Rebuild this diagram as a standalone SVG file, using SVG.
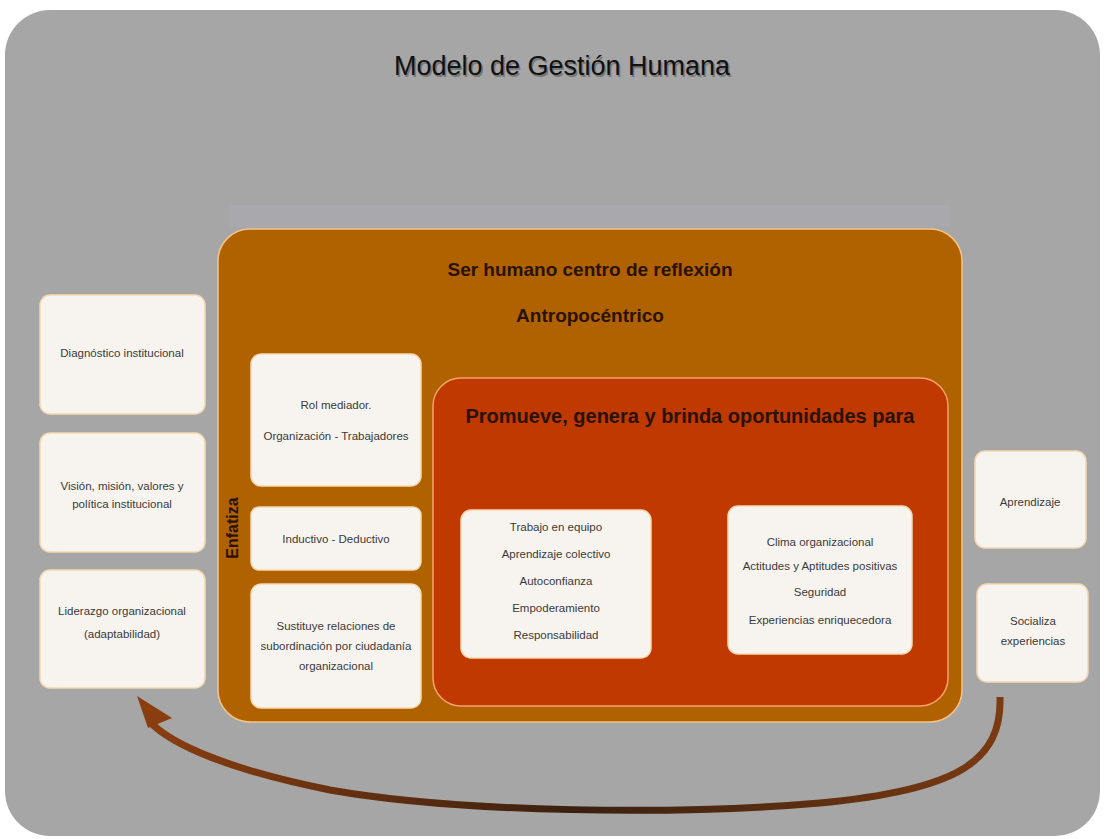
<svg xmlns="http://www.w3.org/2000/svg" width="1106" height="839" viewBox="0 0 1106 839">
<defs>
<style>
.box{fill:#f7f4ef;stroke:#f3d9b0;stroke-width:1.5}
.t{font-family:"Liberation Sans Narrow","Liberation Sans",Arial,sans-serif;font-size:11.5px;fill:#3a3a3a;text-anchor:middle}
.h{font-family:"Liberation Sans Narrow","Liberation Sans",Arial,sans-serif;font-weight:bold;fill:#2a1200;text-anchor:middle}
</style>
<linearGradient id="arr" x1="0" y1="0" x2="1" y2="0">
<stop offset="0" stop-color="#8a3e10"/>
<stop offset="0.5" stop-color="#3a2010"/>
<stop offset="1" stop-color="#7a3a12"/>
</linearGradient>
</defs>
<rect x="0" y="0" width="1106" height="839" fill="#ffffff"/>
<rect x="5" y="10" width="1095" height="826" rx="45" fill="#a6a6a6"/>
<rect x="230" y="205" width="720" height="22" fill="#acaab4" opacity="0.45"/>
<text x="562" y="75" font-family="Liberation Sans Narrow,Liberation Sans,Arial,sans-serif" font-size="27" fill="#5a5a5a" text-anchor="middle" opacity="0.6" transform="translate(1.5,1.5)">Modelo de Gestión Humana</text>
<text x="562" y="75" font-family="Liberation Sans Narrow,Liberation Sans,Arial,sans-serif" font-size="27" fill="#111" text-anchor="middle">Modelo de Gestión Humana</text>

<g id="container">
<rect x="218" y="229" width="744" height="493" rx="32" fill="#b06100" stroke="#f2c48a" stroke-width="1.5"/>
<text class="h" x="590" y="276" font-size="19">Ser humano centro de reflexión</text>
<text class="h" x="590" y="322" font-size="19">Antropocéntrico</text>
<text class="h" x="238" y="528" font-size="16" transform="rotate(-90 238 528)" text-anchor="middle">Enfatiza</text>
</g>

<g id="promueve">
<rect x="433" y="378" width="515" height="328" rx="28" fill="#bf3900" stroke="#f5a36a" stroke-width="1.5"/>
<text class="h" x="690" y="423" font-size="20">Promueve, genera y brinda oportunidades para</text>
</g>

<g id="n-equipo">
<rect class="box" x="461" y="510" width="190" height="148" rx="10"/>
<text class="t" x="556" y="531">Trabajo en equipo</text>
<text class="t" x="556" y="558">Aprendizaje colectivo</text>
<text class="t" x="556" y="585">Autoconfianza</text>
<text class="t" x="556" y="612">Empoderamiento</text>
<text class="t" x="556" y="639">Responsabilidad</text>
</g>

<g id="n-clima">
<rect class="box" x="728" y="506" width="184" height="148" rx="10"/>
<text class="t" x="820" y="546">Clima organizacional</text>
<text class="t" x="820" y="570">Actitudes y Aptitudes positivas</text>
<text class="t" x="820" y="596">Seguridad</text>
<text class="t" x="820" y="624">Experiencias enriquecedora</text>
</g>

<g id="n-rol">
<rect class="box" x="251" y="354" width="170" height="132" rx="10"/>
<text class="t" x="336" y="409">Rol mediador.</text>
<text class="t" x="336" y="440">Organización - Trabajadores</text>
</g>

<g id="n-inductivo">
<rect class="box" x="251" y="507" width="170" height="63" rx="8"/>
<text class="t" x="336" y="543">Inductivo - Deductivo</text>
</g>

<g id="n-sustituye">
<rect class="box" x="251" y="584" width="170" height="124" rx="10"/>
<text class="t" x="336" y="630">Sustituye relaciones de</text>
<text class="t" x="336" y="650">subordinación por ciudadanía</text>
<text class="t" x="336" y="670">organizacional</text>
</g>

<g id="n-diagnostico">
<rect class="box" x="40" y="295" width="165" height="119" rx="10"/>
<text class="t" x="122" y="357">Diagnóstico institucional</text>
</g>

<g id="n-vision">
<rect class="box" x="40" y="433" width="165" height="119" rx="10"/>
<text class="t" x="122" y="490">Visión, misión, valores y</text>
<text class="t" x="122" y="508">política institucional</text>
</g>

<g id="n-liderazgo">
<rect class="box" x="40" y="570" width="165" height="118" rx="10"/>
<text class="t" x="122" y="615">Liderazgo organizacional</text>
<text class="t" x="122" y="638">(adaptabilidad)</text>
</g>

<g id="n-aprendizaje">
<rect class="box" x="975" y="451" width="111" height="97" rx="10"/>
<text class="t" x="1030" y="506">Aprendizaje</text>
</g>

<g id="n-socializa">
<rect class="box" x="977" y="584" width="111" height="98" rx="10"/>
<text class="t" x="1033" y="625">Socializa</text>
<text class="t" x="1033" y="645">experiencias</text>
</g>

<g id="connectors">
<path d="M1000 697 C1002 760 960 790 820 803 C680 815 460 813 330 790 C230 770 172 745 150 722" fill="none" stroke="url(#arr)" stroke-width="7" stroke-linecap="butt"/>
<polygon points="137,696 172,718 148,728" fill="#8a3e10"/>
</g>
</svg>
